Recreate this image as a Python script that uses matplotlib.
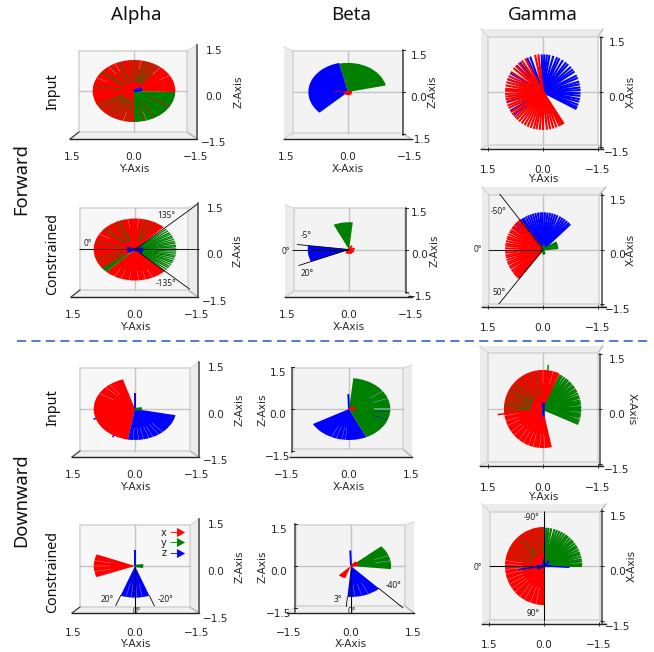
import matplotlib
matplotlib.use('Agg')
import numpy as np
import matplotlib.pyplot as plt
from matplotlib.patches import Wedge, Polygon
from matplotlib.transforms import ScaledTranslation

W, H = 654, 652
RED, GRN, BLU = '#ff0000', '#008000', '#0000ff'
SANS = 'Noto Sans'

col_titles = ['Alpha', 'Beta', 'Gamma']
row_groups = ['Forward', 'Downward']
row_names = ['Input', 'Constrained', 'Input', 'Constrained']
tick_values = [1.5, 0.0, -1.5]

# ---- ray angles (degrees on screen, 0=right, 90=up) and fan spans ----
a1_red_span = (-2, 270)
a1_green_span = (-90, -2)
a1_green_rays = [52, 58, 62, 68, 72, 75, 82, 88, 95, 108, 112, 125, 140, 144, 170, 205, 212, 216, 226, 232, 238, 245, 250, 258, 263]
a1_red_rays = [-75, -60, -30]
a1_gaps = [30, 50, 80, 118, 128, 155, 255, -72]
a1_blue = [10, 20, 30]

a2_red_upper = (46, 220)
a2_red_lower = (226, 316)
a2_green_wedge = (218, 226)
a2_green_rays = [-44, -40, -36, -33, -29, -25, -22, -18, -14, -11, -7, -3, 1, 5, 8, 12, 15, 19, 23, 26, 30, 33, 37, 41]
a2_green_streaks = [60, 70, 76, 110, 115, 122, 135, 140, 165, 195, 205, 215]
a2_gaps = [240, 250, 262, 275, 285, 295, 85, 100, 150]
a2_blue = [-25, -12, 0, 10, 165, 200]
a2_limits = [44, 180, 0, -44]
a2_limit_r = [2.1, 1.35, 1.55, 1.85]

a3_red_span = (107, 260)
a3_blue_span = (260, 348.5)
a3_blue_stick = [90]
a3_blue_tips = [198, 239]
a3_green = [-5, 0, 8]
a3_gaps = [268, 275, 282, 290, 296, 305, 312, 128, 135, 150]

a4_red_span = (158, 201)
a4_blue_span = (250, 290)
a4_blue_stick = [90]
a4_green = [-8, 0, 8]
a4_gaps = [170, 180, 190, 258, 265, 272, 280]
a4_limits_outer = [250, 290]
a4_limits_outer_r = [1.37, 1.38]
a4_limit_center = [270]

b1_blue_span = (103, 224)
b1_green_span = (13, 103)
b1_red = [178]
b1_red_short = [-60, -30, 0, 200, 240, 270, 300]

b2_green_span = (84, 115)
b2_blue_span = (172.7, 203)
b2_red_short = [-70, -30, 10, 60, 240, 260, 275, 300]
b2_limits = [172.7, 180, 203]
b2_limit_r = [1.27, 1.37, 1.33]

b3_green_span = (-65, 84)
b3_blue_span = (209, 295)
b3_blue_stick = [92]
b3_red = [-10, 10, 25]
b3_gaps = [-1, 0, 1, 265, 260, 252, 245, 20, 35]
b3_blue_streaks = [-20, -5]

b4_green_span = (-6, 41)
b4_blue_span = (265, 313)
b4_blue_stick = [92]
b4_red_fan = (225, 250)
b4_red_short = [15, 30, 45]
b4_gaps = [275, 285, 295, 10, 20]
b4_limits = [265, 313]
b4_limit_r = [1.33, 1.85]
b4_limit_center = [270]

g1_blue = [-27, -24, -20, -15, -11, -6, -2, 3, 7, 12, 16, 22, 26, 33, 37, 42, 48, 52, 58, 64, 68, 74, 80, 84, 88, 92, 110, 115, 128, 135, 150, 160, 195, 210, 218]
g1_red = [97, 102, 118, 124, 130, 136, 141, 148, 155, 160, 165, 170, 175, 178, 183, 187, 191, 196, 201, 205, 212, 216, 222, 226, 231, 236, 241, 246, 251, 256, 260, 265, 270, 276, 281, 286, 291, 296, 299, 301, 303]
g1_green = [0, 20, 40, 340]

g2_red = [128, 131, 135, 138, 142, 145, 149, 152, 156, 160, 163, 167, 171, 174, 178, 182, 185, 189, 192, 196, 200, 203, 207, 210, 214, 217, 220, 222, 224, 226, 228, 230]
g2_blue = [43, 46, 50, 54, 58, 62, 67, 71, 75, 79, 83, 87, 91, 94, 98, 102, 106, 110, 114, 118, 122, 125, 128, 134, 138, 142]
g2_green_fan = [5, 10, 15, 20, 24, 28]
g2_green_short = [-70, -85, 80]
g2_limits = [128, 180, 231]
g2_limit_r = [1.93, 1.5, 1.93]

g3_red_span = (65, 283)
g3_red_stick = [187]
g3_green = [-23, -20, -17, -13, -10, -7, -3, 0, 3, 7, 10, 13, 17, 20, 24, 28, 31, 35, 38, 42, 45, 49, 52, 56, 60, 63]
g3_green_stick = [83]
g3_green_streaks = [100, 112, 125, 135, 140, 146, 150, 155, 160, 165, 170, 174, 178, 182]
g3_gaps = [75, 90, 190, 198, 205, 215, 222, 232, 240, 248, 255, 265, 272]
g3_blue = [90, 270]

g4_red_span = (90, 270)
g4_green = [0, 3, 7, 10, 14, 18, 21, 25, 29, 32, 36, 40, 43, 47, 51, 54, 58, 62, 66, 70, 74, 79, 83, 86, 89]
g4_green_streaks = [95, 105, 115, 125, 130, 135, 145, 155, 165]
g4_gaps = [172, 178, 185, 192, 200, 208, 215, 222, 232, 240, 250, 258]
g4_blue_long = [188, -3]
g4_blue_short = [0, 45, 90, 180, 200]
g4_limits = [90, 270, 180]
g4_limit_r = [1.5, 1.5, 1.5]

legend_names = ['x', 'y', 'z']
legend_colors = [RED, GRN, BLU]

GAP = .18
STREAK = .5
def W_(span, col, r=1.0):
    return ('wedge', span, col, r, 0, 0)
def R_(ang, col, r=1.0, lw=1.1, r0=0.0):
    return ('rays', ang, col, r, lw, r0)

panels = [
 dict(xlab='Y-Axis', zlab='Z-Axis', box=(70, 43, 197, 139), o=(134, 91), s=(41.3, 31), zs=31, back=(79, 51, 187, 132), outer=(70, 45, 197, 139),
      walls='rb', side='r', zx=197, zext=(45, 139), xly=158, xaxy=169, zlx=214, zaxx=238, zay=92, tl=(0, 0), inv=True,
      layers=[W_(a1_red_span, RED), W_(a1_green_span, GRN), R_(a1_green_rays, GRN, 1, STREAK, .3), R_(a1_red_rays, RED, 1, .5, .4), R_(a1_gaps, 'white', 1, GAP, .7), R_(a1_blue, BLU, .2, 1.6)]),
 dict(xlab='Y-Axis', zlab='Z-Axis', box=(71, 201, 198, 297), o=(135, 249.5), s=(41.3, 31), zs=31, back=(80, 208, 188, 290), outer=(71, 203, 198, 297),
      walls='rb', side='r', zx=198, zext=(203, 297), xly=316, xaxy=327, zlx=215, zaxx=238, zay=251, tl=(0, 0), inv=True,
      layers=[R_(a2_green_rays, GRN, 1, 1.0), W_(a2_red_upper, RED), W_(a2_red_lower, RED), W_(a2_green_wedge, GRN), R_(a2_green_streaks, GRN, 1, STREAK, .3), R_(a2_gaps, 'white', 1, GAP, .7), R_(a2_blue, BLU, .2, 1.6),
              ('limits', a2_limits, 'black', a2_limit_r, .6, 0)]),
 dict(xlab='Y-Axis', zlab='Z-Axis', box=(72, 360, 199, 457), o=(135, 409), s=(41.3, 31), zs=31, back=(80, 368, 190, 451), outer=(72, 362, 199, 457),
      walls='rb', side='r', zx=199, zext=(362, 457), xly=476, xaxy=487, zlx=216, zaxx=239, zay=410, tl=(0, 0), inv=True,
      layers=[R_(a3_blue_tips, BLU, 1.06, 1), W_(a3_red_span, RED), W_(a3_blue_span, BLU), R_(a3_blue_stick, BLU, .5, 1.4), R_(a3_green, GRN, .17, 1.6), R_(a3_gaps, 'white', 1, GAP, .6)]),
 dict(xlab='Y-Axis', zlab='Z-Axis', box=(72, 517, 199, 613), o=(135, 566), s=(41.3, 31), zs=31, back=(80, 525, 190, 607), outer=(72, 519, 199, 613),
      walls='rb', side='r', zx=199, zext=(519, 613), xly=633, xaxy=644, zlx=216, zaxx=239, zay=567, tl=(0, 0), inv=True,
      layers=[W_(a4_red_span, RED), W_(a4_blue_span, BLU, 1.02), R_(a4_blue_stick, BLU, .51, 1.4), R_(a4_green, GRN, .2, 1.6), R_(a4_gaps, 'white', 1, GAP, .6),
              ('limits', a4_limit_center, 'black', [1.52], .7, 0), ('rays', [a4_limits_outer[0]], 'black', a4_limits_outer_r[0], .6, 1.0), ('rays', [a4_limits_outer[1]], 'black', a4_limits_outer_r[1], .6, 1.02)]),

 dict(xlab='X-Axis', zlab='Z-Axis', box=(285, 47, 411, 139), o=(348, 92), s=(41.3, 31), zs=28, back=(293, 51, 403, 133), outer=(284, 47, 411, 139),
      walls='lb', side='r', zx=403, zext=(50, 135), xly=158, xaxy=169, zlx=419, zaxx=433, zay=92, tl=(0, 0), inv=True, mark=True,
      layers=[W_(b1_green_span, GRN, .94), W_(b1_blue_span, BLU, .96), R_(b1_red, RED, .35, .5), R_(b1_red_short, RED, .1, 1.6)]),
 dict(xlab='X-Axis', zlab='Z-Axis', box=(285, 205, 412, 297), o=(349, 249.5), s=(41.3, 31), zs=28, back=(294, 208, 405, 291), outer=(285, 205, 412, 297),
      walls='lb', side='r', zx=406, zext=(208, 293), xly=316, xaxy=327, zlx=419.5, zaxx=434, zay=251, tl=(0, 0), inv=True, mark=True,
      layers=[W_(b2_green_span, GRN, .88), W_(b2_blue_span, BLU, 1.0), R_(b2_red_short, RED, .14, 1.4),
              ('limits', b2_limits, 'black', b2_limit_r, .6, 0)]),
 dict(xlab='X-Axis', zlab='Z-Axis', box=(286, 365, 412, 457), o=(349, 409), s=(41.3, 31), zs=28, back=(293, 368, 403, 449), outer=(290, 365, 412, 457),
      walls='rb', side='l', zx=292, zext=(368, 452), xly=476, xaxy=487, zlx=278, zaxx=262, zay=410, tl=(0, 0), inv=False, mark=True,
      layers=[R_(b3_blue_stick, BLU, .48, 1.4), W_(b3_blue_span, BLU), W_(b3_green_span, GRN), R_(b3_blue_streaks, BLU, 1, .35, .6), R_(b3_red, RED, .15, 1.4), R_(b3_gaps, 'white', 1, GAP, .6)]),
 dict(xlab='X-Axis', zlab='Z-Axis', box=(288, 522, 414, 613), o=(351, 566), s=(41.3, 31), zs=28, back=(296, 525, 405, 606), outer=(287, 522, 414, 613),
      walls='rb', side='l', zx=295, zext=(524, 612), xly=633, xaxy=644, zlx=279, zaxx=263, zay=567, tl=(0, 0), inv=False, mark=True,
      layers=[R_(b4_blue_stick, BLU, .5, 1.4), W_(b4_red_fan, RED, .42), W_(b4_green_span, GRN, .97), W_(b4_blue_span, BLU, 1.0), R_(b4_red_short, RED, .18, 1.4), R_(b4_gaps, 'white', 1, GAP, .6),
              ('limits', b4_limit_center, 'black', [1.5], .7, 0), ('rays', [b4_limits[0]], 'black', b4_limit_r[0], .6, 1.0), ('rays', [b4_limits[1]], 'black', b4_limit_r[1], .6, .97)]),

 dict(xlab='Y-Axis', zlab='X-Axis', box=(481, 29, 601, 149), o=(543, 92), s=(36.5, 36.5), zs=36.5, back=(488, 37, 598, 145), outer=(481, 29, 603, 149),
      walls='ltb', side='r', zx=601, zext=(37, 149), xly=169, xaxy=179, zlx=615, zaxx=631, zay=92, tl=(2.5, 2.5), inv=True,
      layers=[R_(g1_green, GRN, .12, 1), R_(g1_blue, BLU, 1.03, 1.5), R_(g1_red, RED, 1.04, 1.5)]),
 dict(xlab='', zlab='X-Axis', box=(482, 187, 602, 307), o=(543, 249.5), s=(36.5, 36.5), zs=36.5, back=(489, 195, 599, 304), outer=(482, 187, 606, 307),
      walls='ltb', side='r', zx=602, zext=(194, 307), xly=327, xaxy=337, zlx=616, zaxx=631, zay=250, tl=(2.5, 2.5), inv=True,
      layers=[R_(g2_blue, BLU, 1.02, 1.5), R_(g2_red, RED, 1.04, 1.4), R_(g2_green_fan, GRN, .42, 1.4), R_(g2_green_short, GRN, .14, 1.4),
              ('limits', g2_limits, 'black', g2_limit_r, .6, 0)]),
 dict(xlab='Y-Axis', zlab='X-Axis', box=(480, 346, 600, 466), o=(543, 409), s=(36.5, 36.5), zs=36.5, back=(488, 353, 598, 462), outer=(480, 346, 603, 466),
      walls='ltb', side='r', zx=600, zext=(354, 466), xly=487, xaxy=497, zlx=615, zaxx=632, zay=409, tl=(2.5, 2.5), inv=True, zrot=-90,
      layers=[R_(g3_green, GRN, 1.05, 1.5), R_(g3_green_stick, GRN, 1.22, 1), W_(g3_red_span, RED, 1.07), R_(g3_red_stick, RED, 1.25, 1.1), R_(g3_green_streaks, GRN, 1.05, STREAK, .35), R_(g3_gaps, 'white', 1.07, GAP, .7), R_(g3_blue, BLU, .18, 1.8)]),
 dict(xlab='', zlab='X-Axis', box=(482, 504, 602, 624), o=(544, 566), s=(36.5, 36.5), zs=36.5, back=(490, 512, 600, 620), outer=(482, 504, 606, 624),
      walls='ltb', side='r', zx=602, zext=(510, 624), xly=644, xaxy=655, zlx=616, zaxx=632, zay=566, tl=(2.5, 2.5), inv=True,
      layers=[R_(g4_green, GRN, 1.05, 1.5), W_(g4_red_span, RED, 1.07), R_(g4_green_streaks, GRN, 1.05, STREAK, .35), R_(g4_gaps, 'white', 1.07, GAP, .6), R_(g4_blue_long, BLU, .7, 1), R_(g4_blue_short, BLU, .2, 1.6),
              ('limits', g4_limits, 'black', g4_limit_r, .7, 0)]),
]

# annotation text: (px x, px y, string)
angle_notes = [
 (166, 216, '135°'), (88, 243, '0°'), (166, 284, '-135°'),
 (306, 235, '-5°'), (286, 251, '0°'), (307, 274, '20°'),
 (499, 212, '-50°'), (478, 250, '0°'), (499, 292, '50°'),
 (107, 600, '20°'), (166, 600, '-20°'), (137, 611, '0°'),
 (338, 600, '3°'), (394, 586, '-40°'), (352, 612, '0°'),
 (532, 517, '-90°'), (533, 614, '90°'), (478, 567, '0°'),
]

fig = plt.figure(figsize=(W / 100, H / 100), dpi=100)
PT = 0.72

def draw_panel(p):
    l, t, r, b = p['box']
    ax = fig.add_axes([l / W, 1 - b / H, (r - l) / W, (b - t) / H])
    ax.patch.set_visible(False)
    cx, cy = p['o']
    sx, sy = p['s']
    sgn = -1 if p['inv'] else 1
    dx = lambda px: sgn * (px - cx) / sx
    dy = lambda py: (cy - py) / sy
    P = lambda px, py: (dx(px), dy(py))

    # panes
    ol, ot, or_, ob = p['outer']
    bl, bt, br, bb = p['back']
    edge = '#d2d2d2'
    alpha_panel = p['s'][0] > 40 and p['zx'] == r
    back_col = '#f7f7f7' if alpha_panel else '#f3f3f3'
    ax.add_patch(Polygon([P(bl, bt), P(br, bt), P(br, bb), P(bl, bb)], closed=True, fc=back_col, ec='none', clip_on=False, zorder=.5))
    walls = {'r': [(br, bt), (or_, ot), (or_, ob), (br, bb)], 'l': [(bl, bt), (ol, ot), (ol, ob), (bl, bb)],
             't': [(bl, bt), (ol, ot), (or_, ot), (br, bt)], 'b': [(bl, bb), (ol, ob), (or_, ob), (br, bb)]}
    for w in p['walls']:
        pts = walls[w]
        ax.add_patch(Polygon([P(*q) for q in pts], closed=True, fc='#ececec' if w != 'b' else '#f0f0f0', ec='none', clip_on=False, zorder=.6))
        ax.plot(*zip(*[P(*pts[0]), P(*pts[1])]), color='#dddddd', lw=1, clip_on=False, zorder=.7)
        ax.plot(*zip(*[P(*pts[3]), P(*pts[2])]), color='#bbbbbb', lw=1, clip_on=False, zorder=.7)
    ax.add_patch(Polygon([P(bl, bt), P(br, bt), P(br, bb), P(bl, bb)], closed=True, fc='none', ec=edge, lw=1.1, clip_on=False, zorder=.8))
    # grid
    ax.plot(*zip(*[P(bl, cy), P(br, cy)]), color='#c4c4c4', lw=1, clip_on=False, zorder=.9)
    ax.plot(*zip(*[P(cx, bt), P(cx, bb)]), color='#c4c4c4', lw=1, clip_on=False, zorder=.9)
    # floor + z axis
    ax.plot(*zip(*[P(ol, ob), P(or_, ob)]), color='#222222', lw=1, clip_on=False, zorder=1.2)
    zx = p['zx']
    zt, zb = p['zext']
    ax.plot(*zip(*[P(zx, zt), P(zx, zb)]), color='#444444', lw=1.1, clip_on=False, zorder=1.2)
    if alpha_panel:
        ax.plot(*zip(*[P(ol, ob), P(bl, bb)]), color='#333333', lw=.8, clip_on=False, zorder=1.2)

    # data layers
    def xy(a, rad):
        a = np.radians(a)
        return sgn * rad * np.cos(a), rad * np.sin(a)
    for z, (kind, val, col, rad, lw, r0) in enumerate(p['layers']):
        zo = 2 + z * .1
        if kind == 'wedge':
            a0, a1 = val
            if sgn < 0:
                a0, a1 = 180 - a1, 180 - a0
            ax.add_patch(Wedge((0, 0), rad, a0, a1, fc=col, ec='none', clip_on=False, zorder=zo))
        elif kind == 'rays':
            for a in val:
                x0, y0 = xy(a, r0)
                x1, y1 = xy(a, rad)
                ax.plot([x0, x1], [y0, y1], color=col, lw=lw, clip_on=False, zorder=zo, solid_capstyle='butt')
        else:
            for a, rr in zip(val, rad):
                x1, y1 = xy(a, rr)
                ax.plot([0, x1], [0, y1], color=col, lw=lw, clip_on=False, zorder=zo, solid_capstyle='butt')

    # ticks
    for s in ax.spines.values():
        s.set_visible(False)
    xv = tick_values if p['inv'] else tick_values[::-1]
    ax.set_xticks(xv)
    ax.set_xticklabels(['\u22121.5' if v < 0 else ('1.5' if v > 0 else '0.0') for v in xv])
    zk = p['zs'] / sy
    ax.set_yticks([v * zk for v in tick_values])
    ax.set_yticklabels(['\u22121.5' if v < 0 else f'{v:.1f}' for v in tick_values])
    ax.set_xlim(dx(l), dx(r))
    ax.set_ylim(dy(b), dy(t))
    xlen, zlen = p['tl']
    ax.tick_params(axis='x', labelsize=7.6, length=xlen, width=.7, direction='inout', pad=(p['xly'] - 5.5 - b) * PT, colors='#262626')
    zpad = (p['zlx'] - r) if p['side'] == 'r' else (l - p['zlx'])
    if p['side'] == 'r':
        ax.yaxis.tick_right()
    ax.tick_params(axis='y', labelsize=7.6, length=zlen, width=.7, direction='inout', pad=zpad * PT, colors='#262626')
    off = ScaledTranslation(0, -5 / 100, fig.dpi_scale_trans)
    for lab in ax.get_yticklabels():
        lab.set_ha('center')
        lab.set_transform(lab.get_transform() + off)
    # small marks where the z axis stands away from the axes frame
    if p.get('mark'):
        for v in tick_values:
            yy = v * zk
            ax.plot([dx(zx - 1.5), dx(zx + 1.5)], [yy, yy], color='#222222', lw=.7, clip_on=False, zorder=1.3)

    # axis names
    if p['xlab']:
        ax.set_xlabel(p['xlab'], fontsize=7.6, color='#262626', va='center', ha='center')
        ax.xaxis.set_label_coords((cx - l) / (r - l), (b - p['xaxy']) / (b - t))
    if p['side'] == 'r':
        ax.yaxis.set_label_position('right')
    ax.set_ylabel(p['zlab'], fontsize=7.6, color='#262626', rotation=p.get('zrot', 90), va='center', ha='center')
    ax.yaxis.set_label_coords((p['zaxx'] - l) / (r - l), (b - p['zay']) / (b - t))
    return ax

axes = [draw_panel(p) for p in panels]

def ftext(x, y, s, **kw):
    fig.text(x / W, 1 - y / H, s, ha='center', va='center', family=SANS, **kw)

for x, name in zip([136, 351, 543], col_titles):
    ftext(x, 15, name, fontsize=13.5, color='#111111')
for y, name in zip([179, 500], row_groups):
    ftext(21, y, name, fontsize=13.2, rotation=90, color='#111111')
for y, name in zip([92, 254, 408, 572], row_names):
    ftext(53, y, name, fontsize=10.3, rotation=90, color='#111111')
for x, y, s in angle_notes:
    ftext(x, y, s, fontsize=6, color='#222222')

# divider
fig.add_artist(plt.Line2D([17 / W, 650 / W], [1 - 341 / H] * 2, color='#4472c4', lw=1.3, dashes=(5, 3)))

# small legend of the lower-left panel
for (name, col, y) in zip(legend_names, legend_colors, [532.5, 542.5, 553.5]):
    fig.text(164 / W, 1 - y / H, name, fontsize=7, ha='center', va='center', color='#222222')
    fig.add_artist(matplotlib.patches.FancyArrowPatch((171 / W, 1 - y / H), (185 / W, 1 - y / H), transform=fig.transFigure,
                   arrowstyle='-|>,head_length=3.5,head_width=2', mutation_scale=1.4, color=col, lw=.6, shrinkA=0, shrinkB=0))

fig.savefig('out.png', dpi=100)
